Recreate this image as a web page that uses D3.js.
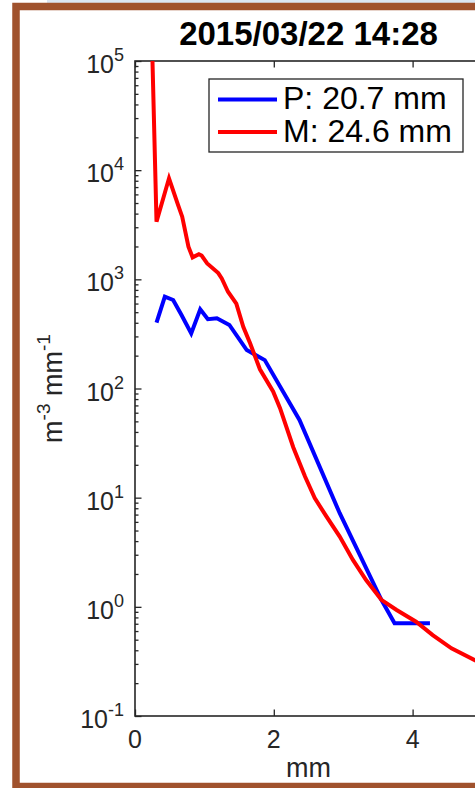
<!DOCTYPE html>
<html lang="en">
<head>
    <meta charset="UTF-8">
    <script src="https://d3js.org/d3.v7.min.js"></script>
    <style>
        body {
            margin: 0;
            background: white;
            font-family: "Liberation Sans", Arial, sans-serif;
        }
        svg { display: block; overflow: hidden; }
    </style>
</head>
<body>
    <div id="chart"></div>

    <script>
        // Data (diameter in mm, concentration in m^-3 mm^-1)
        const title = "2015/03/22 14:28";
        const sizeP = [0.31, 0.43, 0.55, 0.67, 0.81, 0.94, 1.05, 1.18, 1.36, 1.61, 1.87, 2.37, 2.95, 3.55, 3.74, 4.25];
        const nP = [401, 693, 647, 471, 320, 532, 431, 440, 382, 225, 182, 51.5, 7.2, 1.16, 0.706, 0.706];
        const sizeM = [0.24, 0.31, 0.49, 0.62, 0.68, 0.77, 0.83, 0.92, 0.96, 1.04, 1.20, 1.25, 1.34, 1.46, 1.56, 1.66,
                       1.80, 1.99, 2.09, 2.28, 2.45, 2.59, 2.76, 2.95, 3.14, 3.33, 3.55, 3.77, 4.05, 4.29, 4.56, 4.89, 5.2];
        const nM = [2e5, 3370, 8420, 4800, 3750, 1990, 1590, 1700, 1650, 1400, 1140, 1020, 770, 600, 368, 258,
                    150, 94, 66, 29, 15.6, 9.9, 6.7, 4.4, 2.69, 1.76, 1.16, 0.935, 0.73, 0.55, 0.417, 0.326, 0.26];
        const legendLabels = ["P: 20.7 mm", "M: 24.6 mm"];
        const xTicks = [0, 2, 4];
        const yExponents = [5, 4, 3, 2, 1, 0, -1];

        const width = 475, height = 788;
        const plot = { left: 135, top: 61, right: 482, bottom: 716 };
        const axisColor = "#262626";

        const svg = d3.select("#chart").append("svg")
            .attr("width", width)
            .attr("height", height);

        // top strip and brown frame
        svg.append("rect")
            .attr("x", 47).attr("y", 0)
            .attr("width", width - 47).attr("height", 3)
            .attr("fill", "#dbe6f3");

        svg.append("rect")
            .attr("x", 16).attr("y", 6.5)
            .attr("width", 520).attr("height", 780)
            .attr("fill", "white")
            .attr("stroke", "#a0522d")
            .attr("stroke-width", 7.5);

        // scales
        const x = d3.scaleLinear()
            .domain([0, 5])
            .range([plot.left, plot.right]);

        const y = d3.scaleLog()
            .domain([0.1, 1e5])
            .range([plot.bottom, plot.top]);

        svg.append("clipPath").attr("id", "clip")
            .append("rect")
            .attr("x", plot.left).attr("y", plot.top)
            .attr("width", plot.right - plot.left)
            .attr("height", plot.bottom - plot.top);

        // axes, ticks pointing inward like MATLAB
        const allY = y.ticks();
        const isMajor = v => Math.abs(Math.log10(v) - Math.round(Math.log10(v))) < 1e-9;
        const majorY = allY.filter(isMajor);
        const minorY = allY.filter(v => !isMajor(v));

        function styleAxis(g) {
            g.select(".domain").remove();
            g.selectAll("line").attr("stroke", axisColor).attr("stroke-width", 1.3);
        }

        svg.append("g")
            .attr("transform", `translate(${plot.left},0)`)
            .call(d3.axisLeft(y).tickValues(majorY).tickSize(-6.5).tickFormat(""))
            .call(styleAxis);
        svg.append("g")
            .attr("transform", `translate(${plot.left},0)`)
            .call(d3.axisLeft(y).tickValues(minorY).tickSize(-3.5).tickFormat(""))
            .call(styleAxis);
        svg.append("g")
            .attr("transform", `translate(${plot.right},0)`)
            .call(d3.axisRight(y).tickValues(majorY).tickSize(-6.5).tickFormat(""))
            .call(styleAxis);
        svg.append("g")
            .attr("transform", `translate(${plot.right},0)`)
            .call(d3.axisRight(y).tickValues(minorY).tickSize(-3.5).tickFormat(""))
            .call(styleAxis);
        svg.append("g")
            .attr("transform", `translate(0,${plot.bottom})`)
            .call(d3.axisBottom(x).tickValues(xTicks).tickSize(-6.5).tickFormat(""))
            .call(styleAxis);
        svg.append("g")
            .attr("transform", `translate(0,${plot.top})`)
            .call(d3.axisTop(x).tickValues(xTicks).tickSize(-6.5).tickFormat(""))
            .call(styleAxis);

        // box
        svg.append("rect")
            .attr("x", plot.left).attr("y", plot.top)
            .attr("width", plot.right - plot.left)
            .attr("height", plot.bottom - plot.top)
            .attr("fill", "none")
            .attr("stroke", axisColor)
            .attr("stroke-width", 1.6);

        // y tick labels 10^n
        const yLab = svg.append("g")
            .attr("fill", axisColor)
            .attr("text-anchor", "end");
        yExponents.forEach(e => {
            const t = yLab.append("text")
                .attr("x", 124)
                .attr("y", y(Math.pow(10, e)) + 12)
                .style("font-size", "25px");
            t.append("tspan").text("10");
            t.append("tspan")
                .attr("dy", -12)
                .style("font-size", "18px")
                .text(e);
        });

        // x tick labels
        svg.append("g")
            .selectAll("text")
            .data(xTicks)
            .enter().append("text")
            .attr("x", d => x(d))
            .attr("y", 748)
            .attr("text-anchor", "middle")
            .attr("fill", axisColor)
            .style("font-size", "25px")
            .text(d => d);

        // series
        const line = d3.line()
            .x(d => x(d[0]))
            .y(d => y(d[1]));

        const lines = svg.append("g").attr("clip-path", "url(#clip)");
        lines.append("path")
            .datum(d3.zip(sizeP, nP))
            .attr("fill", "none")
            .attr("stroke", "#0000ff")
            .attr("stroke-width", 4)
            .attr("d", line);
        lines.append("path")
            .datum(d3.zip(sizeM, nM))
            .attr("fill", "none")
            .attr("stroke", "#ff0000")
            .attr("stroke-width", 4)
            .attr("d", line);

        // legend
        const legend = svg.append("g");
        legend.append("rect")
            .attr("x", 209).attr("y", 79)
            .attr("width", 254).attr("height", 73)
            .attr("fill", "white")
            .attr("stroke", axisColor)
            .attr("stroke-width", 1.3);
        const legendColors = ["#0000ff", "#ff0000"];
        legendLabels.forEach((lbl, i) => {
            const ly = 99.5 + i * 32.5;
            legend.append("line")
                .attr("x1", 218).attr("x2", 277)
                .attr("y1", ly).attr("y2", ly)
                .attr("stroke", legendColors[i])
                .attr("stroke-width", 4);
            legend.append("text")
                .attr("x", 283)
                .attr("y", ly + 9.5)
                .attr("fill", "black")
                .style("font-size", "32px")
                .text(lbl);
        });

        // title and axis labels
        svg.append("text")
            .attr("x", (plot.left + plot.right) / 2)
            .attr("y", 45)
            .attr("text-anchor", "middle")
            .style("font-size", "33px")
            .style("font-weight", "bold")
            .text(title);

        svg.append("text")
            .attr("x", (plot.left + plot.right) / 2)
            .attr("y", 777)
            .attr("text-anchor", "middle")
            .attr("fill", axisColor)
            .style("font-size", "27px")
            .text("mm");

        const yTitle = svg.append("text")
            .attr("transform", `translate(62,${(plot.top + plot.bottom) / 2}) rotate(-90)`)
            .attr("text-anchor", "middle")
            .attr("fill", axisColor)
            .style("font-size", "27px");
        yTitle.append("tspan").text("m");
        yTitle.append("tspan").attr("dy", -12).style("font-size", "19px").text("-3");
        yTitle.append("tspan").attr("dy", 12).text(" mm");
        yTitle.append("tspan").attr("dy", -12).style("font-size", "19px").text("-1");
    </script>
</body>
</html>
